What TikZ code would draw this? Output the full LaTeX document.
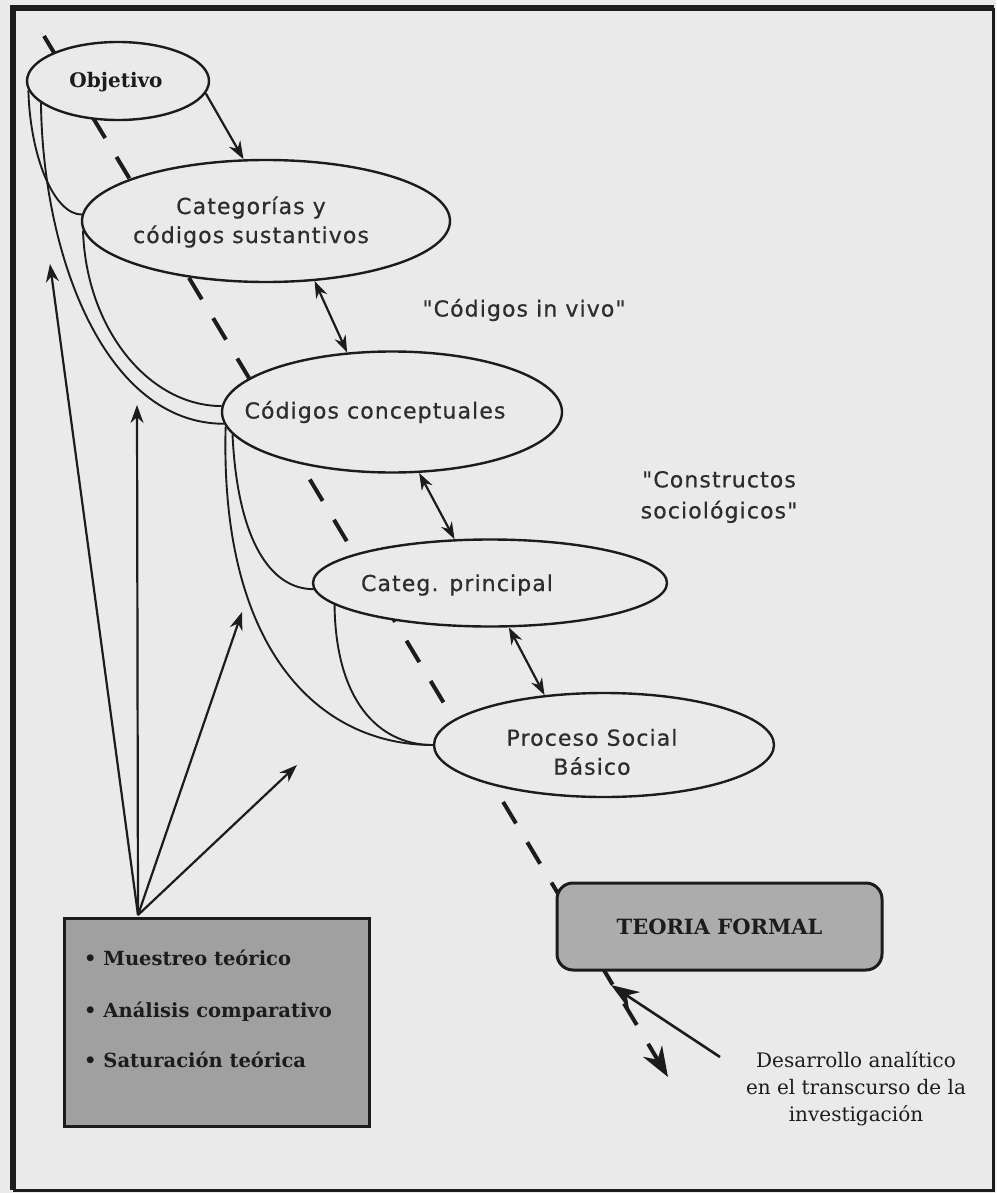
\documentclass[tikz,border=0pt]{standalone}
\usepackage{fontspec}
\setmainfont{DejaVu Serif}
\newfontfamily\sansf[LetterSpace=5,FakeBold=0.6]{DejaVu Sans}
\usetikzlibrary{arrows.meta,shapes.geometric,calc}
\definecolor{bg}{RGB}{234,234,234}
\definecolor{ink}{RGB}{28,28,28}
\definecolor{txt}{RGB}{45,45,45}
\definecolor{boxgray}{RGB}{160,160,160}
\definecolor{teogray}{RGB}{172,172,172}
\tikzset{
  ell/.style={ellipse, draw=ink, line width=2.4pt, fill=bg, inner sep=0pt},
  curve/.style={draw=ink, line width=1.9pt},
  dbl/.style={draw=ink, line width=2.2pt, {Stealth[length=17pt,width=12pt]}-{Stealth[length=17pt,width=12pt]}},
  sarrow/.style={draw=ink, line width=2.2pt, -{Stealth[length=18pt,width=13pt]}},
  bigarrow/.style={draw=ink, line width=2.6pt, -{Stealth[length=28pt,width=20pt]}},
  dashline/.style={draw=ink, line width=4pt, dash pattern=on 25pt off 22pt, -{Stealth[length=30pt,width=22pt]}},
  sanslab/.style={font=\sansf\fontsize{22}{29}\selectfont, text=txt, align=center, inner sep=0pt},
  serifbold/.style={font=\bfseries\fontsize{19.5}{22}\selectfont, text=ink, inner sep=0pt},
  serifreg/.style={font=\fontsize{20}{27}\selectfont, text=ink, align=center, inner sep=0pt},
}
\begin{document}
\begin{tikzpicture}[x=1pt,y=-1pt]
\useasboundingbox (0,0) rectangle (996,1193);
\fill[bg] (0,0) rectangle (996,1193);
% frame
\draw[ink, line width=6pt] (13,1190) -- (13,8) -- (994,8);
\draw[ink, line width=3pt] (993,8) -- (993,1190) -- (13,1190);

% dashed main line (behind everything)
\coordinate (dstart) at (44,36);
\coordinate (dend) at (668,1077);
\draw[dashline] (dstart) -- (dend);

% ellipses
\node[ell, minimum width=182, minimum height=78] (obj) at (118,81) {};
\node[ell, minimum width=368, minimum height=122] (cat) at (266,221) {};
\node[ell, minimum width=340, minimum height=121] (cod) at (392,412) {};
\node[ell, minimum width=354, minimum height=87] (cp) at (490,583) {};
\node[ell, minimum width=340, minimum height=104] (psb) at (604,745) {};

% labels
\node[serifbold, font=\bfseries\fontsize{20}{22}\selectfont] (objt) at (116,82) {Objetivo};
\node[sanslab] (catt) at (251,222) {Categorías y\\códigos sustantivos};
\node[sanslab] (codt) at (375,412) {Códigos conceptuales};
\node[sanslab] (cpt) at (457,585) {Categ. principal};
\node[sanslab] (psbt) at (592,752) {Proceso Social\\Básico};
\node[sanslab] (vivo) at (524,310) {"Códigos in vivo"};
\node[sanslab, font=\sansf\fontsize{22}{31}\selectfont] (cons) at (719,497) {"Constructos\\sociológicos"};

% funnel curves on the left
\draw[curve] (obj.186) .. controls +(2,69) and +(-27,0) .. (cat.178);
\draw[curve] (obj.196) .. controls +(2,157) and +(-117,0) .. (cod.184);
\draw[curve] (cat.183) .. controls +(3,98) and +(-73,0) .. (cod.178);
\draw[curve] (cod.188) .. controls +(5,106) and +(-43,0) .. (cp.182);
\draw[curve] (cod.185.5) .. controls +(-6,222) and +(-115,0) .. (psb.west);
\draw[curve] (cp.188) .. controls +(1,95) and +(-55,0) .. (psb.west);

% arrows between ellipses
\draw[sarrow] (obj.-8) -- (cat.110);
\draw[dbl] (cat.-51) -- (cod.127);
\draw[dbl] (cod.-66) -- (cp.129);
\draw[dbl] (cp.-67) -- (psb.140);

% theory box
\node[draw=ink, line width=3pt, fill=teogray, rounded corners=16pt,
      minimum width=325, minimum height=87, inner sep=0pt,
      font=\bfseries\fontsize{21}{24}\selectfont, text=ink] (teo) at (719.5,926.5) {TEORIA FORMAL};

% development note
\node[serifreg] (dev) at (856,1089) {Desarrollo analítico\\en el transcurso de la\\investigación};
\coordinate (devtail) at (720,1057);
\coordinate (devtip) at (611,985);
\draw[bigarrow] (devtail) -- (devtip);

% left box
\node[draw=ink, line width=3pt, fill=boxgray, minimum width=305, minimum height=208,
      anchor=north west, inner sep=0pt] (lbox) at (63,917) {};
\node[serifbold, anchor=west] (m1) at (84,958) {• Muestreo teórico};
\node[serifbold, anchor=west] (m2) at (84,1012) {• Análisis comparativo};
\node[serifbold, anchor=west] (m3) at (84,1060) {• Saturación teórica};

\coordinate (apex) at ($(lbox.north west)+(75,-2)$);
\coordinate (t1) at (50,264);
\coordinate (t2) at (137,405);
\coordinate (t3) at (242,612);
\coordinate (t4) at (297,765);
\draw[sarrow] (apex) -- (t1);
\draw[sarrow] (apex) -- (t2);
\draw[sarrow] (apex) -- (t3);
\draw[sarrow] (apex) -- (t4);
\end{tikzpicture}
\end{document}
